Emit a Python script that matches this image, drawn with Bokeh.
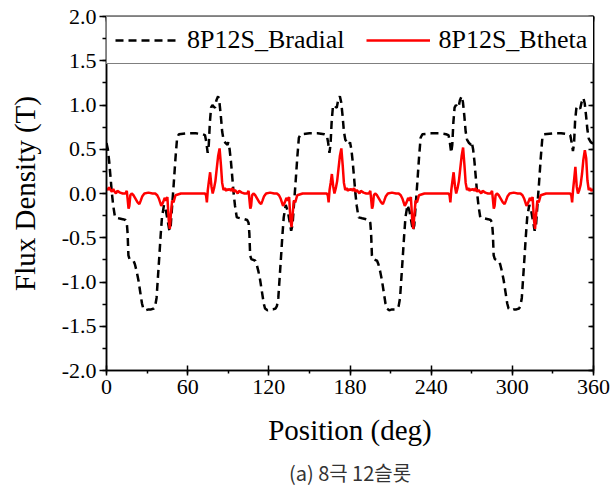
from bokeh.plotting import figure
from bokeh.models import (Range1d, LinearAxis, SingleIntervalTicker, Legend, LegendItem,
                          Title, CustomJSTickFormatter, NumeralTickFormatter)
from bokeh.embed import file_html
from bokeh.resources import INLINE

# ---------------- data ----------------
bradial_deg = [
    0, 1, 2, 3, 4, 5, 6.3, 9, 12, 14, 15, 15.6, 16.2, 17, 18.5, 20, 21, 22.3, 23.6, 25, 26.2, 27.2,
    29, 31, 33, 35, 36, 37, 38, 39, 40, 41, 42.5, 44, 45.5, 46.5, 47.5, 48.6, 49.7, 51, 52.2, 53.5,
    60, 66, 71, 72.8, 73.8, 74.8, 75.6, 76.4, 77.3, 78.3, 79.3, 80.2, 81.2, 82.5, 83.5, 84.5, 85.5, 86.5, 88, 89.5,
    90, 91, 92, 93, 94, 95, 96.3, 99, 102, 104, 105, 105.6, 106.2, 107, 108.5, 110, 111, 112.3, 113.6, 115, 116.2, 117.2,
    119, 121, 123, 125, 126, 127, 128, 129, 130, 131, 132.5, 134, 135.5, 136.5, 137.5, 138.6, 139.7, 141, 142.2, 143.5,
    150, 156, 161, 162.8, 163.8, 164.8, 165.6, 166.4, 167.3, 168.3, 169.3, 170.2, 171.2, 172.5, 173.5, 174.5, 175.5, 176.5, 178, 179.5,
    180, 181, 182, 183, 184, 185, 186.3, 189, 192, 194, 195, 195.6, 196.2, 197, 198.5, 200, 201, 202.3, 203.6, 205, 206.2, 207.2,
    209, 211, 213, 215, 216, 217, 218, 219, 220, 221, 222.5, 224, 225.5, 226.5, 227.5, 228.6, 229.7, 231, 232.2, 233.5,
    240, 246, 251, 252.8, 253.8, 254.8, 255.6, 256.4, 257.3, 258.3, 259.3, 260.2, 261.2, 262.5, 263.5, 264.5, 265.5, 266.5, 268, 269.5,
    270, 271, 272, 273, 274, 275, 276.3, 279, 282, 284, 285, 285.6, 286.2, 287, 288.5, 290, 291, 292.3, 293.6, 295, 296.2, 297.2,
    299, 301, 303, 305, 306, 307, 308, 309, 310, 311, 312.5, 314, 315.5, 316.5, 317.5, 318.6, 319.7, 321, 322.2, 323.5,
    330, 336, 341, 342.8, 343.8, 344.8, 345.6, 346.4, 347.3, 348.3, 349.3, 350.2, 351.2, 352.5, 353.5, 354.5, 355.5, 356.5, 358, 360,
]
bradial_T = [
    0.57, 0.50, 0.36, 0.18, 0.00, -0.14, -0.27, -0.28, -0.29, -0.30, -0.33, -0.45, -0.70, -0.74, -0.75, -0.76, -0.80, -0.88, -0.98, -1.12, -1.24, -1.30,
    -1.32, -1.31, -1.31, -1.30, -1.27, -1.18, -0.95, -0.72, -0.48, -0.27, -0.13, -0.20, -0.33, -0.42, -0.36, -0.12, 0.11, 0.40, 0.63, 0.67,
    0.68, 0.68, 0.67, 0.66, 0.58, 0.46, 0.55, 0.80, 0.97, 1.00, 0.98, 0.97, 1.05, 1.10, 1.03, 0.88, 0.70, 0.61, 0.57, 0.55,
    0.58, 0.50, 0.36, 0.18, 0.00, -0.14, -0.27, -0.28, -0.29, -0.30, -0.33, -0.45, -0.70, -0.74, -0.75, -0.76, -0.80, -0.88, -0.98, -1.12, -1.24, -1.30,
    -1.32, -1.31, -1.31, -1.30, -1.27, -1.18, -0.95, -0.72, -0.48, -0.27, -0.13, -0.20, -0.33, -0.42, -0.36, -0.12, 0.11, 0.40, 0.63, 0.67,
    0.68, 0.68, 0.67, 0.66, 0.58, 0.46, 0.55, 0.80, 0.97, 1.00, 0.98, 0.97, 1.05, 1.10, 1.03, 0.88, 0.70, 0.61, 0.57, 0.55,
    0.58, 0.50, 0.36, 0.18, 0.00, -0.14, -0.27, -0.28, -0.29, -0.30, -0.33, -0.45, -0.70, -0.74, -0.75, -0.76, -0.80, -0.88, -0.98, -1.12, -1.24, -1.30,
    -1.32, -1.31, -1.31, -1.30, -1.27, -1.18, -0.95, -0.72, -0.48, -0.27, -0.13, -0.20, -0.33, -0.42, -0.36, -0.12, 0.11, 0.40, 0.63, 0.67,
    0.68, 0.68, 0.67, 0.66, 0.58, 0.46, 0.55, 0.80, 0.97, 1.00, 0.98, 0.97, 1.05, 1.10, 1.03, 0.88, 0.70, 0.61, 0.57, 0.55,
    0.58, 0.50, 0.36, 0.18, 0.00, -0.14, -0.27, -0.28, -0.29, -0.30, -0.33, -0.45, -0.70, -0.74, -0.75, -0.76, -0.80, -0.88, -0.98, -1.12, -1.24, -1.30,
    -1.32, -1.31, -1.31, -1.30, -1.27, -1.18, -0.95, -0.72, -0.48, -0.27, -0.13, -0.20, -0.33, -0.42, -0.36, -0.12, 0.11, 0.40, 0.63, 0.67,
    0.68, 0.68, 0.67, 0.66, 0.58, 0.48, 0.56, 0.82, 0.96, 0.99, 0.97, 0.96, 1.03, 1.08, 1.02, 0.88, 0.72, 0.62, 0.58, 0.56,
]

btheta_deg = [
    0, 1, 2, 3, 4, 5, 6, 7, 8, 10, 12, 14, 15, 15.6, 16.3, 16.9, 17.6, 18.6, 20, 21.5, 23, 24.3, 25.3, 26.5,
    28, 31, 34, 36, 37.5, 38.8, 40.5, 41.8, 43, 44, 45, 46, 46.8, 47.5, 48.5, 49.5, 51, 55, 62, 69,
    72.8, 73.6, 74.2, 74.9, 75.7, 76.6, 77.6, 78.5, 79.5, 80.5, 81.5, 82.5, 83.6, 84.6, 85.5, 86.5, 87.5, 88.5, 89.5,
    90, 91, 92, 93, 94, 95, 96, 97, 98, 100, 102, 104, 105, 105.6, 106.3, 106.9, 107.6, 108.6, 110, 111.5, 113, 114.3, 115.3, 116.5,
    118, 121, 124, 126, 127.5, 128.8, 130.5, 131.8, 133, 134, 135, 136, 136.8, 137.5, 138.5, 139.5, 141, 145, 152, 159,
    162.8, 163.6, 164.2, 164.9, 165.7, 166.6, 167.6, 168.5, 169.5, 170.5, 171.5, 172.5, 173.6, 174.6, 175.5, 176.5, 177.5, 178.5, 179.5,
    180, 181, 182, 183, 184, 185, 186, 187, 188, 190, 192, 194, 195, 195.6, 196.3, 196.9, 197.6, 198.6, 200, 201.5, 203, 204.3, 205.3, 206.5,
    208, 211, 214, 216, 217.5, 218.8, 220.5, 221.8, 223, 224, 225, 226, 226.8, 227.5, 228.5, 229.5, 231, 235, 242, 249,
    252.8, 253.6, 254.2, 254.9, 255.7, 256.6, 257.6, 258.5, 259.5, 260.5, 261.5, 262.5, 263.6, 264.6, 265.5, 266.5, 267.5, 268.5, 269.5,
    270, 271, 272, 273, 274, 275, 276, 277, 278, 280, 282, 284, 285, 285.6, 286.3, 286.9, 287.6, 288.6, 290, 291.5, 293, 294.3, 295.3, 296.5,
    298, 301, 304, 306, 307.5, 308.8, 310.5, 311.8, 313, 314, 315, 316, 316.8, 317.5, 318.5, 319.5, 321, 325, 332, 339,
    342.8, 343.6, 344.2, 344.9, 345.7, 346.6, 347.6, 348.5, 349.5, 350.5, 351.5, 352.5, 353.6, 354.6, 355.5, 356.5, 357.5, 358.5, 360,
]
btheta_T = [
    0.06, 0.04, 0.07, 0.04, 0.02, 0.05, 0.02, 0.00, 0.03, 0.01, 0.00, 0.00, 0.03, -0.06, -0.17, -0.14, -0.02, 0.00, -0.02, -0.06, -0.10, -0.12, -0.08, -0.03,
    0.00, 0.01, 0.00, 0.00, -0.02, -0.06, -0.14, -0.10, -0.05, -0.08, -0.04, -0.30, -0.40, -0.25, -0.08, -0.10, -0.02, 0.00, 0.00, 0.00,
    0.00, -0.02, -0.10, 0.04, 0.14, 0.24, 0.08, 0.00, 0.06, 0.14, 0.28, 0.42, 0.51, 0.32, 0.12, 0.04, 0.06, 0.03, 0.05,
    0.04, 0.05, 0.03, 0.06, 0.02, 0.04, 0.02, 0.00, 0.03, 0.01, 0.00, 0.00, 0.03, -0.06, -0.17, -0.14, -0.02, 0.00, -0.02, -0.06, -0.10, -0.12, -0.08, -0.03,
    0.00, 0.01, 0.00, 0.00, -0.02, -0.06, -0.14, -0.10, -0.05, -0.08, -0.04, -0.30, -0.38, -0.25, -0.08, -0.10, -0.02, 0.00, 0.00, 0.00,
    0.00, -0.02, -0.10, 0.04, 0.12, 0.22, 0.08, 0.00, 0.06, 0.14, 0.28, 0.42, 0.51, 0.32, 0.12, 0.04, 0.06, 0.03, 0.05,
    0.04, 0.05, 0.03, 0.06, 0.02, 0.04, 0.02, 0.00, 0.03, 0.01, 0.00, 0.00, 0.03, -0.06, -0.17, -0.14, -0.02, 0.00, -0.02, -0.06, -0.10, -0.12, -0.08, -0.03,
    0.00, 0.01, 0.00, 0.00, -0.02, -0.06, -0.14, -0.10, -0.05, -0.08, -0.04, -0.30, -0.40, -0.25, -0.08, -0.10, -0.02, 0.00, 0.00, 0.00,
    0.00, -0.02, -0.10, 0.04, 0.14, 0.24, 0.08, 0.00, 0.06, 0.14, 0.28, 0.42, 0.52, 0.32, 0.12, 0.04, 0.06, 0.03, 0.05,
    0.04, 0.05, 0.03, 0.06, 0.02, 0.04, 0.02, 0.00, 0.03, 0.01, 0.00, 0.00, 0.03, -0.06, -0.17, -0.14, -0.02, 0.00, -0.02, -0.06, -0.10, -0.12, -0.08, -0.03,
    0.00, 0.01, 0.00, 0.00, -0.02, -0.06, -0.14, -0.10, -0.05, -0.08, -0.04, -0.30, -0.40, -0.25, -0.08, -0.10, -0.02, 0.00, 0.00, 0.00,
    0.00, -0.02, -0.10, 0.04, 0.16, 0.30, 0.08, 0.00, 0.04, 0.10, 0.22, 0.38, 0.49, 0.40, 0.15, 0.04, 0.06, 0.03, 0.05,
]

series_labels = ["8P12S_Bradial", "8P12S_Btheta"]
x_title = "Position (deg)"
y_title = "Flux Density (T)"
caption = "(a) 8극 12슬롯"

SERIF = "Liberation Serif"

p = figure(width=612, height=493, x_range=Range1d(0, 360), y_range=Range1d(-2, 2),
           output_backend="svg", toolbar_location=None,
           min_border_left=106, min_border_right=19, min_border_top=16, min_border_bottom=120)

p.grid.visible = False
p.outline_line_color = "black"
p.outline_line_width = 1.5
p.background_fill_color = "white"
p.border_fill_color = "white"

r1 = p.line(bradial_deg, bradial_T, line_color="black", line_width=2.5, line_dash="8 5")
r2 = p.line(btheta_deg, btheta_T, line_color="#ff0000", line_width=2.5)

# main axes
xa = p.xaxis[0]
xa.ticker = SingleIntervalTicker(interval=60, num_minor_ticks=2)
ya = p.yaxis[0]
ya.ticker = SingleIntervalTicker(interval=0.5, num_minor_ticks=2)
ya.formatter = NumeralTickFormatter(format="0.0")

for ax in (xa, ya):
    ax.axis_line_color = "black"
    ax.axis_line_width = 1.5
    ax.major_tick_line_width = 1.5
    ax.minor_tick_line_width = 1.5
    ax.major_label_text_font = SERIF
    ax.major_label_text_font_size = "22px"
    ax.major_label_text_color = "black"
    ax.axis_label_text_font = SERIF
    ax.axis_label_text_font_size = "29px"
    ax.axis_label_text_font_style = "normal"
    ax.axis_label_text_color = "black"

xa.axis_label = x_title
xa.major_tick_in = 5
xa.major_tick_out = 5
xa.minor_tick_in = 0
xa.minor_tick_out = 3
xa.major_label_standoff = 4
xa.axis_label_standoff = 17

ya.axis_label = y_title
ya.major_tick_in = 0
ya.major_tick_out = 7
ya.minor_tick_in = 0
ya.minor_tick_out = 4
ya.major_label_standoff = 3
ya.axis_label_standoff = 18

# mirror axes (top / right) with inward ticks and no labels
blank = CustomJSTickFormatter(code="return ''")
top = LinearAxis(ticker=SingleIntervalTicker(interval=60, num_minor_ticks=2), formatter=blank,
                 major_tick_in=5, major_tick_out=0, minor_tick_in=3, minor_tick_out=0,
                 major_label_standoff=0, axis_line_width=1.5, major_tick_line_width=1.5,
                 minor_tick_line_width=1.5, major_label_text_font_size="1px")
right = LinearAxis(ticker=SingleIntervalTicker(interval=0.5, num_minor_ticks=2), formatter=blank,
                   major_tick_in=5, major_tick_out=0, minor_tick_in=3, minor_tick_out=0,
                   major_label_standoff=0, axis_line_width=1.5, major_tick_line_width=1.5,
                   minor_tick_line_width=1.5, major_label_text_font_size="1px")
p.add_layout(top, "above")
p.add_layout(right, "right")

legend = Legend(items=[LegendItem(label=series_labels[0], renderers=[r1]),
                       LegendItem(label=series_labels[1], renderers=[r2])],
                orientation="horizontal", location="top_left", margin=0, padding=8,
                spacing=22, glyph_width=64, glyph_height=22, label_height=22,
                label_width=152, label_standoff=8,
                label_text_font=SERIF, label_text_font_size="26px", label_text_color="black",
                border_line_color="black", border_line_width=1.5,
                background_fill_color="white", background_fill_alpha=1.0)
p.add_layout(legend)

cap = Title(text=caption, align="center", text_font="Noto Sans CJK KR", text_font_size="20px",
            text_font_style="normal", text_color="#333333", standoff=14)
p.add_layout(cap, "below")

open("out.html", "w").write(file_html(p, INLINE))
